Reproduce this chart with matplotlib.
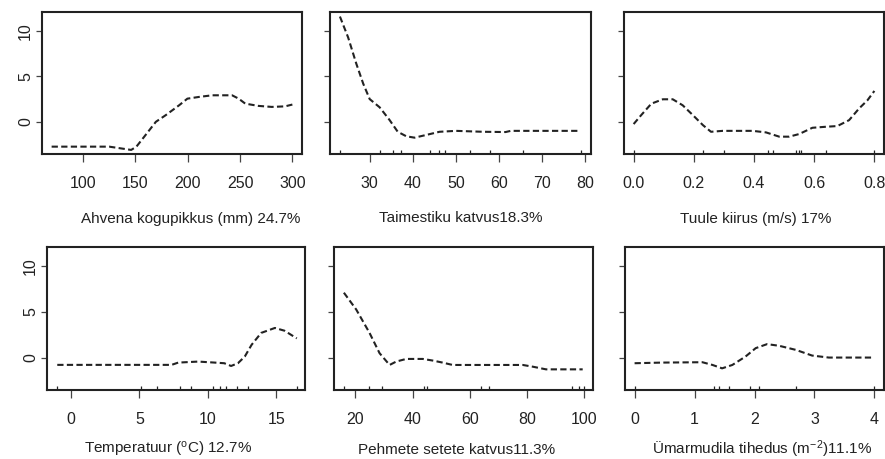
import matplotlib
matplotlib.use("Agg")
import matplotlib.pyplot as plt

plt.rcParams["font.family"] = ["Liberation Sans", "DejaVu Sans"]
plt.rcParams["mathtext.fontset"] = "custom"
plt.rcParams["mathtext.rm"] = "Liberation Sans"
plt.rcParams["mathtext.it"] = "Liberation Sans"

# partial dependence curves
len_x = [70, 125, 146, 151, 158.5, 169.6, 179, 191.8, 199.7, 210.8, 223.4, 242.4, 248.7, 255, 267.7, 280.4, 293, 300]
len_y = [-2.74, -2.74, -3.1, -2.74, -1.64, 0.0, 0.73, 1.82, 2.55, 2.74, 2.92, 2.92, 2.55, 2.0, 1.75, 1.64, 1.7, 1.9]

veg_x = [23.1, 25, 26.9, 28.5, 30, 32.3, 34.6, 36.5, 38.5, 40.4, 43.1, 46.2, 50, 56.2, 61.5, 62.7, 78.5]
veg_y = [11.6, 9.3, 6.4, 4.2, 2.5, 1.6, 0.2, -1.1, -1.6, -1.75, -1.45, -1.1, -1.0, -1.1, -1.13, -1.0, -1.0]

wind_x = [0, 0.025, 0.059, 0.097, 0.13, 0.163, 0.197, 0.23, 0.257, 0.296, 0.396, 0.44, 0.484, 0.517,
          0.55, 0.594, 0.638, 0.677, 0.716, 0.749, 0.777, 0.8]
wind_y = [-0.25, 0.73, 2.0, 2.48, 2.48, 1.82, 0.73, -0.36, -1.1, -1.0, -1.0, -1.17, -1.64, -1.64,
          -1.35, -0.66, -0.55, -0.47, 0.18, 1.46, 2.37, 3.4]

temp_x = [-1.0, 7.35, 7.84, 9.3, 10.5, 11.2, 11.7, 12.2, 12.7, 13.2, 13.9, 14.9, 15.6, 16.5]
temp_y = [-0.8, -0.8, -0.55, -0.44, -0.55, -0.62, -0.92, -0.62, 0.11, 1.4, 2.7, 3.24, 2.94, 2.1]

sed_x = [16.05, 20.35, 25, 28.5, 32, 34.3, 37.8, 43.6, 47.1, 50.5, 54, 66.9, 78.5, 82, 86.6, 99.4]
sed_y = [7.1, 5.26, 2.7, 0.48, -0.81, -0.44, -0.15, -0.15, -0.33, -0.55, -0.81, -0.81, -0.81, -1.0, -1.29, -1.29]

goby_x = [0, 0.46, 1.13, 1.3, 1.46, 1.63, 1.85, 2.02, 2.21, 2.41, 2.69, 2.96, 3.24, 4.0]
goby_y = [-0.62, -0.55, -0.51, -0.81, -1.18, -0.81, 0.11, 1.03, 1.47, 1.29, 0.84, 0.22, 0.0, 0.0]

# rug marks (data deciles)
len_rug = []
veg_rug = [23.2, 32.3, 35.3, 37.3, 43.9, 46.0, 47.5, 53.3, 57.8, 65.6, 79.0]
wind_rug = [0, 0.23, 0.30, 0.445, 0.462, 0.54, 0.551, 0.557, 0.638, 0.8]
temp_rug = [-1.0, 5.1, 6.3, 8.0, 8.8, 10.4, 10.9, 11.3, 12.1, 12.9, 16.5]
sed_rug = [16.2, 24.9, 29.5, 44.1, 44.9, 63.9, 66.6, 95.7, 98, 100]
goby_rug = [0, 1.33, 1.41, 1.58, 1.93, 2.08, 2.70, 4.0]

labels = ["Ahvena kogupikkus (mm) 24.7%", "Taimestiku katvus18.3%", "Tuule kiirus (m/s) 17%",
          r"Temperatuur ($^{\mathrm{o}}$C) 12.7%", "Pehmete setete katvus11.3%",
          r"Ümarmudila tihedus (m$^{\mathrm{-2}}$)11.1%"]
xticks = [[100, 150, 200, 250, 300], [30, 40, 50, 60, 70, 80], [0.0, 0.2, 0.4, 0.6, 0.8],
          [0, 5, 10, 15], [20, 40, 60, 80, 100], [0, 1, 2, 3, 4]]
xticklabels = [["100", "150", "200", "250", "300"], ["30", "40", "50", "60", "70", "80"],
               ["0.0", "0.2", "0.4", "0.6", "0.8"], ["0", "5", "10", "15"],
               ["20", "40", "60", "80", "100"], ["0", "1", "2", "3", "4"]]
yticks = [0, 5, 10]

curves = [(len_x, len_y, len_rug), (veg_x, veg_y, veg_rug), (wind_x, wind_y, wind_rug),
          (temp_x, temp_y, temp_rug), (sed_x, sed_y, sed_rug), (goby_x, goby_y, goby_rug)]

W, H = 885, 459
boxes = [(42, 302, 12, 154), (330, 591, 12, 154), (624, 884, 12, 154),
         (47, 305, 247, 390), (334, 593, 247, 390), (625, 884, 247, 390)]
xlims = [(60.8, 309.2), (20.8, 81.3), (-0.032, 0.832), (-1.75, 17.1), (12.6, 103.0), (-0.16, 4.16)]
# label centre x and baseline y, in pixels
label_pos = [(191, 222.5), (461, 222.5), (756, 222.5), (168, 454), (457, 454), (762, 454)]

ink = "#222222"
fig = plt.figure(figsize=(W / 100, H / 100), dpi=100)

for i, (l, r, t, b) in enumerate(boxes):
    ax = fig.add_axes([l / W, 1 - b / H, (r - l) / W, (b - t) / H])
    x, y, rug = curves[i]
    ax.plot(x, y, color=ink, lw=1.5, linestyle=(0, (3, 1.6)))
    if rug:
        ax.vlines(rug, 0, 0.03, transform=ax.get_xaxis_transform(), color=ink, lw=0.9)
    ax.set_xlim(*xlims[i])
    ax.set_ylim(-3.55, 12.1)
    ax.set_xticks(xticks[i])
    ax.set_xticklabels(xticklabels[i])
    ax.set_yticks(yticks)
    if i % 3 == 0:
        ax.set_yticklabels([str(v) for v in yticks], rotation=90, va="center")
    else:
        ax.set_yticklabels([])
    ax.tick_params(axis="both", width=0.9, color="#444444", labelsize=11.5, labelcolor=ink)
    ax.tick_params(axis="x", length=6, pad=10)
    ax.tick_params(axis="y", length=4, pad=2.5)
    for s in ax.spines.values():
        s.set_linewidth(1.5)
        s.set_color(ink)
    lx, ly = label_pos[i]
    fig.text(lx / W, 1 - ly / H, labels[i], ha="center", va="baseline", fontsize=11, color=ink)

fig.savefig("out.png", dpi=100, facecolor="white")
